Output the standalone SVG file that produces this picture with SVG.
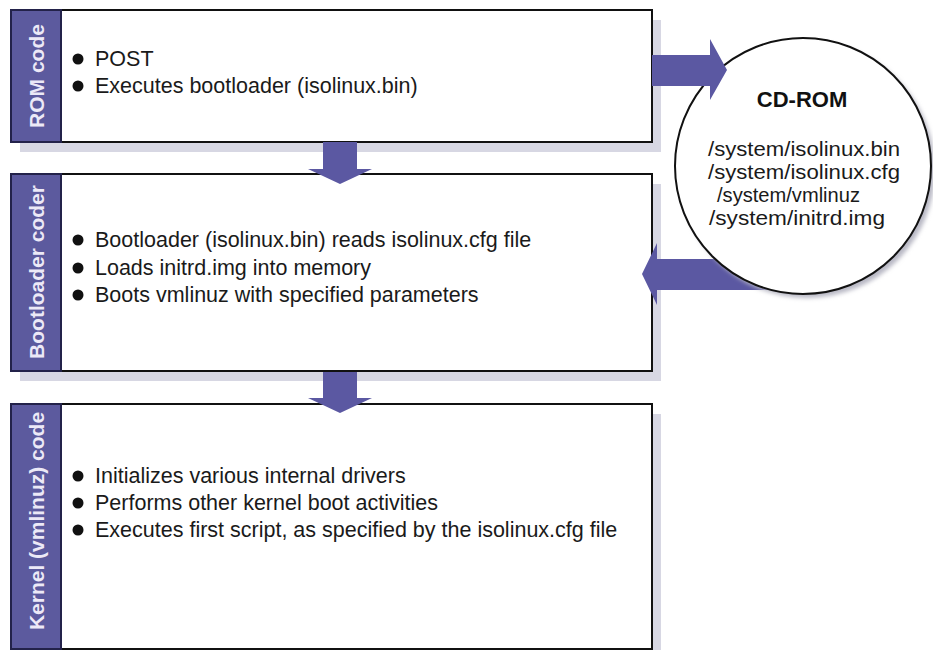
<svg xmlns="http://www.w3.org/2000/svg" width="933" height="650" viewBox="0 0 933 650">
<defs>
<style>
.shadow{fill:#d7d7e3}
.box{fill:#ffffff;stroke:#111;stroke-width:2}
.side{fill:#5c5a9e;stroke:#23224a;stroke-width:2}
.side-t{font-family:"Liberation Sans",Arial,sans-serif;font-weight:bold;font-size:21px;fill:#ece9f7;text-anchor:middle}
.body{font-family:"Liberation Sans",Arial,sans-serif;font-size:21.5px;fill:#1a1a1a}
.bul{fill:#111}
.arrow{fill:#5b58a2}
.cd-t{font-family:"Liberation Sans",Arial,sans-serif;font-size:19.5px;fill:#1a1a1a;text-anchor:middle}
.cd-h{font-family:"Liberation Sans",Arial,sans-serif;font-size:22px;font-weight:bold;fill:#111;text-anchor:middle}
</style>
<filter id="blur" x="-20%" y="-20%" width="140%" height="140%"><feGaussianBlur stdDeviation="2"/></filter>
</defs>

<g id="rom">
<rect class="shadow" x="20" y="20" width="641" height="132"/>
<rect class="box" x="11" y="10" width="641" height="132"/>
<rect class="side" x="11" y="10" width="50" height="132"/>
<text class="side-t" transform="translate(44,76) rotate(-90)">ROM code</text>
<circle class="bul" cx="78" cy="59" r="5.5"/>
<text class="body" x="95" y="66">POST</text>
<circle class="bul" cx="78" cy="86" r="5.5"/>
<text class="body" x="95" y="93">Executes bootloader (isolinux.bin)</text>
</g>

<g id="bootloader">
<rect class="shadow" x="20" y="184" width="641" height="197"/>
<rect class="box" x="11" y="174" width="641" height="197"/>
<rect class="side" x="11" y="174" width="50" height="197"/>
<text class="side-t" transform="translate(44,272) rotate(-90)">Bootloader coder</text>
<circle class="bul" cx="78" cy="240" r="5.5"/>
<text class="body" x="95" y="247">Bootloader (isolinux.bin) reads isolinux.cfg file</text>
<circle class="bul" cx="78" cy="268" r="5.5"/>
<text class="body" x="95" y="275">Loads initrd.img into memory</text>
<circle class="bul" cx="78" cy="295" r="5.5"/>
<text class="body" x="95" y="302">Boots vmlinuz with specified parameters</text>
</g>

<g id="kernel">
<rect class="shadow" x="20" y="414" width="641" height="245"/>
<rect class="box" x="11" y="404" width="641" height="245"/>
<rect class="side" x="11" y="404" width="50" height="245"/>
<text class="side-t" transform="translate(44,521) rotate(-90)">Kernel (vmlinuz) code</text>
<circle class="bul" cx="78" cy="476" r="5.5"/>
<text class="body" x="95" y="483">Initializes various internal drivers</text>
<circle class="bul" cx="78" cy="503" r="5.5"/>
<text class="body" x="95" y="510">Performs other kernel boot activities</text>
<circle class="bul" cx="78" cy="530" r="5.5"/>
<text class="body" x="95" y="537">Executes first script, as specified by the isolinux.cfg file</text>
</g>

<g id="connectors">
<polygon class="arrow" points="323,142 357,142 357,169 372,169 340,184 308,169 323,169"/>
<polygon class="arrow" points="323,372 357,372 357,398 372,398 340,413 308,398 323,398"/>
<polygon class="arrow" points="775,259 657,259 657,243 642,274 657,305 657,290 775,290"/>
</g>

<g id="cdrom">
<circle cx="807" cy="170" r="128" fill="#b8b8c4" filter="url(#blur)"/>
<circle cx="803" cy="166" r="128" fill="#ffffff" stroke="#111" stroke-width="2"/>
<text class="cd-h" x="802" y="107">CD-ROM</text>
<text class="cd-t" x="804" y="156" textLength="192" lengthAdjust="spacingAndGlyphs">/system/isolinux.bin</text>
<text class="cd-t" x="804" y="179" textLength="192" lengthAdjust="spacingAndGlyphs">/system/isolinux.cfg</text>
<text class="cd-t" x="789" y="202" textLength="143" lengthAdjust="spacingAndGlyphs" text-anchor="start" style="text-anchor:start" transform="translate(-72,0)">/system/vmlinuz</text>
<text class="cd-t" x="797" y="225" textLength="176" lengthAdjust="spacingAndGlyphs">/system/initrd.img</text>
</g>

<g id="connector-top">
<polygon class="arrow" points="652,55 710,55 710,39 727,70 710,100 710,86 652,86"/>
</g>
</svg>
